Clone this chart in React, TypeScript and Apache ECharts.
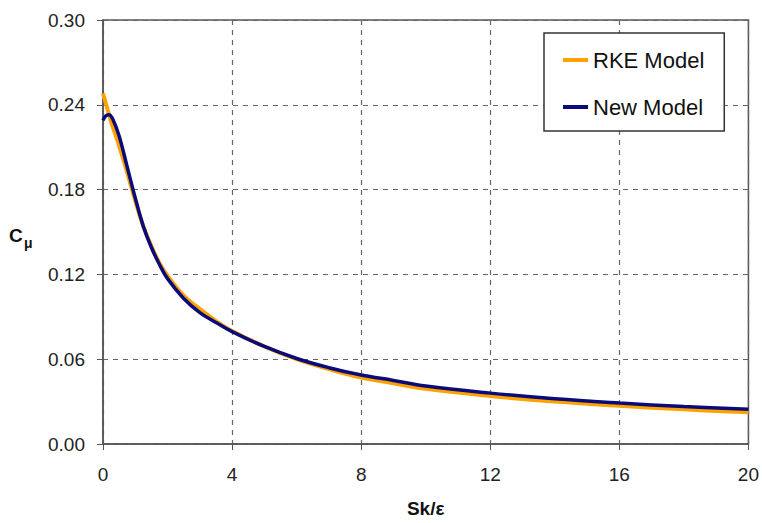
import React, { useEffect, useRef } from "react";
import * as echarts from "echarts";

const xTicks = [0, 4, 8, 12, 16, 20];
const yTicks = [0, 0.06, 0.12, 0.18, 0.24, 0.3];

const rkeX = [0, 0.1, 0.25, 0.5, 0.75, 1.0, 1.25, 1.5, 1.75, 2.0, 2.5, 3.0, 3.5, 4.0, 5, 6, 7, 8, 9, 10, 12, 14, 16, 18, 20];
const rkeY = [0.248, 0.24, 0.228, 0.211, 0.192, 0.172, 0.154, 0.14, 0.128, 0.119, 0.105, 0.0955, 0.087, 0.08, 0.069, 0.06, 0.053, 0.047, 0.043, 0.039, 0.034, 0.03, 0.027, 0.0245, 0.0224];

const newX = [0, 0.08, 0.18, 0.3, 0.5, 0.75, 1.0, 1.25, 1.5, 1.75, 2.0, 2.5, 3.0, 3.5, 4.0, 5, 6, 7, 8, 9, 10, 12, 14, 16, 18, 20];
const newY = [0.229, 0.232, 0.233, 0.23, 0.218, 0.196, 0.174, 0.154, 0.139, 0.127, 0.117, 0.103, 0.093, 0.086, 0.0795, 0.069, 0.0605, 0.054, 0.0488, 0.045, 0.041, 0.036, 0.032, 0.029, 0.0265, 0.0245];

const FONT = "'Liberation Sans', Arial, Helvetica, sans-serif";

export default function App() {
  const ref = useRef<HTMLDivElement>(null);
  useEffect(() => {
    if (!ref.current) return;
    const chart = echarts.init(ref.current, null, { renderer: "svg" });
    chart.setOption({
      animation: false,
      backgroundColor: "#fff",
      textStyle: { fontFamily: FONT },
      grid: {
        left: 103,
        right: 12,
        top: 20,
        bottom: 75,
        show: true,
        borderColor: "#555",
        borderWidth: 1.5,
      },
      graphic: [
        {
          type: "text",
          left: 9,
          top: 226,
          style: { text: "C", fontSize: 19, fontWeight: "bold", fill: "#111", fontFamily: FONT },
        },
        {
          type: "text",
          left: 24,
          top: 236,
          style: { text: "μ", fontSize: 14, fontWeight: "bold", fill: "#111", fontFamily: FONT },
        },
      ],
      legend: {
        orient: "vertical",
        left: 544,
        top: 33,
        padding: [15, 20, 12, 19],
        itemGap: 23,
        itemWidth: 25,
        itemHeight: 4,
        icon: "rect",
        borderColor: "#333",
        borderWidth: 1.5,
        backgroundColor: "#fff",
        textStyle: { fontSize: 22, lineHeight: 24, color: "#111", fontFamily: FONT },
        data: ["RKE Model", "New Model"],
      },
      xAxis: {
        type: "value",
        min: 0,
        max: 20,
        interval: 4,
        name: "Sk/ε",
        nameLocation: "middle",
        nameGap: 55,
        nameTextStyle: { fontSize: 19, fontWeight: "bold", color: "#111", fontFamily: FONT },
        axisLine: { show: true, lineStyle: { color: "#555", width: 1.5 } },
        axisTick: { show: true, length: 6, lineStyle: { color: "#555" } },
        axisLabel: {
          fontSize: 19,
          color: "#222",
          margin: 21,
          formatter: (v: number) => (xTicks.includes(v) ? String(v) : ""),
        },
        splitLine: { show: true, lineStyle: { color: "#666", type: [5, 5], width: 1.2 } },
      },
      yAxis: {
        type: "value",
        min: 0,
        max: 0.3,
        interval: 0.06,
        axisLine: { show: true, lineStyle: { color: "#555", width: 1.5 } },
        axisTick: { show: true, length: 6, lineStyle: { color: "#555" } },
        axisLabel: {
          fontSize: 19,
          color: "#222",
          margin: 18,
          formatter: (v: number) => {
            const t = yTicks.find((k) => Math.abs(k - v) < 1e-9);
            return t === undefined ? "" : t.toFixed(2);
          },
        },
        splitLine: { show: true, lineStyle: { color: "#666", type: [5, 5], width: 1.2 } },
      },
      series: [
        {
          name: "RKE Model",
          type: "line",
          smooth: 0.4,
          showSymbol: false,
          color: "#FFA200",
          lineStyle: { color: "#FFA200", width: 4 },
          data: rkeX.map((x, i) => [x, rkeY[i]]),
          z: 2,
        },
        {
          name: "New Model",
          type: "line",
          smooth: 0.4,
          showSymbol: false,
          color: "#0A0A7A",
          lineStyle: { color: "#0A0A7A", width: 3.5 },
          data: newX.map((x, i) => [x, newY[i]]),
          z: 3,
        },
      ],
    });
    return () => chart.dispose();
  }, []);
  return (
    <div
      ref={ref}
      style={{ position: "fixed", left: 0, top: 0, width: 762, height: 523 }}
    />
  );
}
